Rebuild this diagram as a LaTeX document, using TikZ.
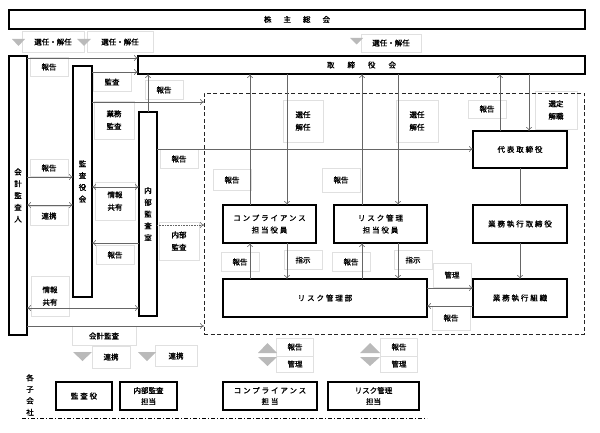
\documentclass[tikz,border=0pt]{standalone}
\usepackage{fontspec}
\newfontfamily\jp[FakeBold=1.2]{Noto Sans CJK JP}
\newfontfamily\jpw[LetterSpace=25,FakeBold=1.2]{Noto Sans CJK JP}
\usetikzlibrary{arrows.meta}
\begin{document}
\begin{tikzpicture}[x=1pt,y=-1pt,
  every node/.style={inner sep=0pt, outer sep=0pt},
  mbox/.style={draw=black, line width=1.2pt, anchor=north west, font=\jpw\fontsize{7.5}{12}\selectfont, align=center},
  vbox/.style={mbox, font=\jp\fontsize{7.5}{11.8}\selectfont},
  lab/.style={draw=black!12, line width=0.5pt, font=\jp\fontsize{7.5}{12.5}\selectfont, align=center, minimum width=38pt, minimum height=19pt},
  con/.style={draw=black!60, line width=0.6pt},
  arr/.style={con, -{To[length=4pt,width=6pt]}},
  darr/.style={con, {To[length=4pt,width=6pt]}-{To[length=4pt,width=6pt]}},
  tri/.style={fill=black!27},
]
\useasboundingbox (0,0) rectangle (600,433);

% ---------- labels (faint frames) ----------
\node[lab, minimum width=62pt, minimum height=21pt] (l1) at (53,42) {選任・解任};
\node[lab, minimum width=66pt, minimum height=21pt] (l2) at (120,42) {選任・解任};
\node[lab, minimum width=60pt, minimum height=18pt] (l3) at (391,43) {選任・解任};
\node[lab] (l4) at (49,67) {報告};
\node[lab] (l5) at (112,82) {監査};
\node[lab] (l6) at (164,90) {報告};
\node[lab, minimum width=40pt, minimum height=38pt] (l7) at (114,120) {業務\\監査};
\node[lab] (l8) at (179,159) {報告};
\node[lab, minimum height=17pt] (l9) at (49,168) {報告};
\node[lab] (l10) at (49,216) {連携};
\node[lab, minimum width=40pt, minimum height=38pt] (l11) at (115,201) {情報\\共有};
\node[lab, minimum width=40pt, minimum height=38pt] (l12) at (179,241) {内部\\監査};
\node[lab] (l13) at (115,255) {報告};
\node[lab, minimum width=38pt, minimum height=40pt] (l14) at (50,296) {情報\\共有};
\node[lab, minimum width=64pt] (l15) at (104,336) {会計監査};
\node[lab, minimum width=40pt, minimum height=42pt] (l16) at (303,121) {選任\\解任};
\node[lab, minimum height=21pt] (l17) at (232,180) {報告};
\node[lab, minimum height=24pt] (l18) at (341,180) {報告};
\node[lab, minimum width=42pt, minimum height=42pt] (l19) at (417,121) {選任\\解任};
\node[lab, minimum height=18pt] (l20) at (487,109) {報告};
\node[lab, minimum width=42pt, minimum height=38pt] (l21) at (556,110) {選定\\解職};
\node[lab] (l22) at (240,262) {報告};
\node[lab] (l23) at (303,260) {指示};
\node[lab] (l24) at (351,262) {報告};
\node[lab] (l25) at (413,260) {指示};
\node[lab, minimum height=24pt] (l26) at (452,275) {管理};
\node[lab, minimum height=24pt] (l27) at (451,318) {報告};
\node[lab, minimum height=22pt] (l28) at (111,357) {連携};
\node[lab, minimum width=42pt, minimum height=21pt] (l29) at (176,356) {連携};
\node[lab, minimum width=37pt, minimum height=18pt] (l30) at (295,347) {報告};
\node[lab, minimum width=37pt, minimum height=16pt] (l31) at (295,364) {管理};
\node[lab, minimum width=37pt, minimum height=18pt] (l32) at (399,347) {報告};
\node[lab, minimum width=37pt, minimum height=16pt] (l33) at (399,364) {管理};

% ---------- triangles ----------
\fill[tri] (12,39) -- (25,39) -- (18.5,46) -- cycle;
\fill[tri] (77,39) -- (91,39) -- (84,46) -- cycle;
\fill[tri] (350,38) -- (363,38) -- (356.5,44.5) -- cycle;
\fill[tri] (73,352) -- (92,352) -- (82.5,361) -- cycle;
\fill[tri] (138,352) -- (156,352) -- (147,361) -- cycle;
\fill[tri] (258,353) -- (277,353) -- (267.5,343) -- cycle;
\fill[tri] (258,357) -- (277,357) -- (267.5,366) -- cycle;
\fill[tri] (360,353) -- (380,353) -- (370,343) -- cycle;
\fill[tri] (360,357) -- (380,357) -- (370,366) -- cycle;

% ---------- main boxes ----------
\node[mbox, minimum width=576pt, minimum height=19pt] (soukai) at (9,10) {株\hspace{12pt}主\hspace{12pt}総\hspace{12pt}会};
\node[mbox, minimum width=447pt, minimum height=18pt] (board) at (138,56) {取\hspace{13pt}締\hspace{13pt}役\hspace{13pt}会};
\node[vbox, minimum width=18pt, minimum height=279pt] (kaikei) at (9,56) {会\\計\\監\\査\\人};
\node[vbox, minimum width=19pt, minimum height=231pt] (kansa) at (73,66) {監\\査\\役\\会};
\node[vbox, minimum width=18pt, minimum height=204pt] (naibu) at (139,112) {内\\部\\監\\査\\室};
\node[draw=black!85, line width=0.9pt, dash pattern=on 4pt off 2.5pt, anchor=north west, minimum width=380pt, minimum height=241pt] (reg) at (204,93) {};
\node[mbox, minimum width=94pt, minimum height=37pt] (daihyo) at (473,131) {代表取締役};
\node[mbox, minimum width=94pt, minimum height=38pt] (gyomu) at (473,205) {業務執行取締役};
\node[mbox, minimum width=94pt, minimum height=38pt] (soshiki) at (473,279) {業務執行組織};
\node[mbox, minimum width=204pt, minimum height=38pt] (riskbu) at (223,279) {リスク管理部};
\node[mbox, minimum width=93pt, minimum height=38pt] (comp) at (223,205) {コンプライアンス\\担当役員};
\node[mbox, minimum width=93pt, minimum height=38pt] (riskoff) at (334,205) {リスク管理\\担当役員};

% subsidiaries
\node[font=\jp\fontsize{7.5}{11.5}\selectfont, align=center] (kogaisha) at (30,395) {各\\子\\会\\社};
\node[mbox, minimum width=56pt, minimum height=28pt] (s1) at (56,382) {監査役};
\node[mbox, minimum width=57pt, minimum height=28pt, font=\jp\fontsize{7.5}{11}\selectfont] (s2) at (120,382) {内部監査\\担当};
\node[mbox, minimum width=94pt, minimum height=28pt, font=\jpw\fontsize{7.5}{11}\selectfont] (s3) at (223,382) {コンプライアンス\\担当};
\node[mbox, minimum width=91pt, minimum height=28pt, font=\jp\fontsize{7.5}{11}\selectfont] (s4) at (328,382) {リスク管理\\担当};
\coordinate (dl1) at (22,418);
\coordinate (dl2) at (427,418);
\draw[line width=0.8pt, dash pattern=on 4pt off 2pt on 1pt off 2pt] (dl1) -- (dl2);

% ---------- connectors ----------
\draw[arr] (kaikei.east |- 0,58) -- (board.west |- 0,58);
\draw[arr] (kansa.east |- 0,72) -- (board.west |- 0,72);
\draw[arr] (naibu.north -| 148,0) -- (board.south -| 148,0);
\draw[arr] (kansa.east |- 0,102) -- (reg.west |- 0,102);
\draw[arr] (naibu.east |- 0,149) -- (daihyo.west |- 0,149);
\draw[arr] (kaikei.east |- 0,177) -- (kansa.west |- 0,177);
\draw[darr] (kaikei.east |- 0,205) -- (kansa.west |- 0,205);
\draw[darr] (kansa.east |- 0,187) -- (naibu.west |- 0,187);
\draw[arr, densely dotted] (naibu.east |- 0,225) -- (reg.west |- 0,225);
\draw[arr] (naibu.west |- 0,243) -- (kansa.east |- 0,243);
\draw[darr] (kaikei.east |- 0,308) -- (naibu.west |- 0,308);
\draw[arr] (kaikei.east |- 0,326) -- (reg.west |- 0,326);

\draw[arr] (comp.north -| 250,0) -- (board.south -| 250,0);
\draw[arr] (board.south -| 287,0) -- (comp.north -| 287,0);
\draw[arr] (riskoff.north -| 362,0) -- (board.south -| 362,0);
\draw[arr] (board.south -| 398,0) -- (riskoff.north -| 398,0);
\draw[arr] (daihyo.north -| 500,0) -- (board.south -| 500,0);
\draw[arr] (board.south -| 529,0) -- (daihyo.north -| 529,0);

\draw[arr] (riskbu.north -| 250,0) -- (comp.south -| 250,0);
\draw[arr] (comp.south -| 287,0) -- (riskbu.north -| 287,0);
\draw[arr] (riskbu.north -| 362,0) -- (riskoff.south -| 362,0);
\draw[arr] (riskoff.south -| 398,0) -- (riskbu.north -| 398,0);
\draw[con] (daihyo.south -| 520,0) -- (gyomu.north -| 520,0);
\draw[arr] (gyomu.south -| 520,0) -- (soshiki.north -| 520,0);
\draw[arr] (riskbu.east |- 0,288) -- (soshiki.west |- 0,288);
\draw[arr] (soshiki.west |- 0,306) -- (riskbu.east |- 0,306);
\end{tikzpicture}
\end{document}
